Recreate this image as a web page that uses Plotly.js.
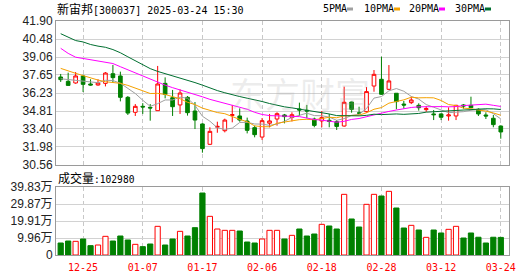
<!DOCTYPE html>
<html><head><meta charset="utf-8">
<script src="https://cdn.plot.ly/plotly-3.0.1.min.js"></script>
<style>html,body{margin:0;padding:0;background:#fff}#chart{width:530px;height:276px}</style>
</head><body><div id="chart"></div>
<script>
// ---- data ----
const dates = ['12-20','12-23','12-24','12-25','12-26','12-27','12-30','12-31','01-02','01-03',
  '01-06','01-07','01-08','01-09','01-10','01-13','01-14','01-15','01-16','01-17',
  '01-20','01-21','01-22','01-23','01-24','01-27','02-05','02-06','02-07','02-10',
  '02-11','02-12','02-13','02-14','02-17','02-18','02-19','02-20','02-21','02-24',
  '02-25','02-26','02-27','02-28','03-03','03-04','03-05','03-06','03-07','03-10',
  '03-11','03-12','03-13','03-14','03-17','03-18','03-19','03-20','03-21','03-24'];
const open = [37.49,37.15,37.02,37.57,36.94,36.86,36.99,37.75,37.57,35.89,
  34.71,35.18,35.10,34.84,36.99,35.86,35.29,35.89,34.81,33.79,
  32.19,33.54,33.26,34.47,34.42,34.02,33.50,32.76,33.85,34.18,
  34.50,34.30,34.97,34.87,34.18,34.03,34.08,33.97,33.63,35.52,
  34.65,34.76,36.78,37.31,36.52,36.21,35.36,35.47,35.26,34.92,
  34.58,34.58,34.42,34.42,35.29,35.26,34.95,34.50,34.24,33.63];
const high = [37.73,37.83,37.88,37.67,37.31,37.31,37.88,38.44,37.91,35.99,
  35.36,35.43,35.36,38.36,37.46,36.47,36.52,35.99,35.52,33.85,
  33.53,33.97,34.21,35.29,35.02,34.29,33.66,34.26,34.58,34.71,
  34.58,34.71,35.47,35.29,34.29,34.81,34.58,34.10,36.73,35.55,
  35.15,36.70,38.04,39.09,38.43,36.21,35.60,35.94,35.42,35.20,
  34.89,34.63,35.10,35.30,35.36,35.94,35.02,34.71,34.50,33.68];
const low = [37.10,36.80,36.96,36.31,36.81,36.81,36.75,37.04,35.57,34.50,
  34.42,34.58,34.05,34.84,35.81,34.42,34.58,34.45,33.39,31.53,
  32.14,33.10,33.13,33.92,33.97,33.05,32.74,32.53,33.53,33.66,
  33.84,33.99,34.42,34.24,33.53,33.53,33.53,33.32,33.58,34.68,
  34.55,34.68,36.33,36.10,36.47,34.95,35.00,35.36,34.84,34.75,
  34.10,34.10,34.05,34.10,35.00,35.05,34.42,34.18,33.53,32.63];
const close = [37.28,36.83,37.57,36.91,36.86,37.02,37.80,37.44,35.89,34.65,
  35.18,35.13,35.05,36.94,36.12,35.15,36.23,34.68,34.10,31.85,
  33.21,33.60,34.10,34.52,34.10,33.29,32.95,34.05,34.03,34.60,
  34.37,34.52,34.89,34.81,33.68,34.29,34.00,33.60,35.50,34.94,
  34.65,36.34,37.70,36.13,37.18,35.55,35.28,35.68,35.07,35.00,
  34.52,34.32,34.50,35.26,35.21,35.07,34.58,34.42,33.74,33.16];
const ma5 = [37.35,37.28,37.22,37.15,37.09,37.04,37.23,37.21,37.00,36.56,
  36.19,35.66,35.18,35.39,35.68,35.68,35.90,35.82,35.26,34.40,
  34.01,33.49,33.37,33.46,33.91,33.92,33.79,33.78,33.68,33.78,
  34.00,34.31,34.48,34.64,34.45,34.44,34.33,34.08,34.21,34.47,
  34.54,35.01,35.83,35.95,36.40,36.58,36.37,35.96,35.75,35.32,
  35.11,34.92,34.68,34.72,34.76,34.87,34.92,34.91,34.60,34.19];
const ma10 = [38.17,37.95,37.78,37.60,37.40,37.25,37.12,37.05,36.99,36.83,
  36.62,36.45,36.19,36.20,36.12,35.94,35.78,35.50,35.32,35.04,
  34.85,34.69,34.60,34.36,34.15,33.97,33.64,33.58,33.57,33.85,
  33.96,34.05,34.13,34.16,34.12,34.22,34.32,34.28,34.43,34.46,
  34.49,34.67,34.95,35.08,35.43,35.56,35.69,35.90,35.85,35.86,
  35.85,35.64,35.32,35.24,35.04,34.99,34.92,34.80,34.66,34.48];
const ma20 = [39.75,39.35,39.05,38.95,38.87,38.80,38.68,38.55,38.30,38.05,
  37.80,37.55,37.30,37.05,36.85,36.65,36.48,36.32,36.13,35.93,
  35.73,35.57,35.40,35.28,35.14,34.95,34.71,34.54,34.45,34.44,
  34.40,34.37,34.37,34.26,34.14,34.09,33.98,33.93,34.00,34.15,
  34.22,34.36,34.54,34.62,34.78,34.89,35.01,35.09,35.14,35.16,
  35.17,35.16,35.14,35.16,35.24,35.28,35.30,35.35,35.26,35.17];
const ma30 = [40.90,40.62,40.36,40.25,40.05,39.92,39.83,39.65,39.40,39.08,
  38.75,38.42,38.15,37.93,37.76,37.62,37.45,37.25,37.05,36.85,
  36.62,36.42,36.25,36.08,35.95,35.82,35.70,35.56,35.40,35.24,
  35.14,35.06,34.97,34.90,34.80,34.71,34.58,34.45,34.44,34.45,
  34.43,34.47,34.56,34.53,34.57,34.58,34.55,34.58,34.62,34.72,
  34.76,34.79,34.80,34.83,34.86,34.92,34.98,34.99,34.98,34.93];
// volume in 万手
const volume = [7.03,8.20,8.00,9.37,5.47,5.86,10.93,8.20,11.13,8.79,
  6.25,4.88,6.44,16.79,5.86,9.37,13.86,11.13,16.00,36.30,
  22.65,15.23,14.45,14.45,14.06,7.61,7.03,9.37,14.45,14.45,
  9.37,11.52,15.23,11.13,12.30,17.96,16.99,15.23,35.53,21.09,
  16.40,29.68,35.53,34.56,37.29,27.53,15.81,17.38,14.64,10.35,
  14.64,12.89,15.03,16.79,9.96,12.89,10.40,7.03,10.40,10.298];
const priceTicks = [41.90,40.48,39.06,37.65,36.23,34.81,33.40,31.98,30.56];
const volTicks = [0,9.96,19.91,29.87,39.83];
const volTickText = ['0','9.96万','19.91万','29.87万','39.83万'];
const dateTicks = ['12-25','01-07','01-17','02-06','02-18','02-28','03-12','03-24'];
const maNames = ['5PMA','10PMA','20PMA','30PMA'];
const maColors = ['#a0a0a0','#f5a100','#ff00ff','#006f30'];
const title = '新宙邦[300037] 2025-03-24 15:30';
const volLabel = '成交量:102980';

// ---- helpers for layout placement ----
const W=530,H=276,ML=56,MR=21,MT=21,MB=21;
const pw=W-ML-MR, ph=H-MT-MB;
const px=x=>(x-ML)/pw, py=y=>(H-MB-y)/ph;
const RED='#ff0000', GREEN='#008000';

const up = close.map((c,i)=> c>open[i] || (c===open[i] && i>0 && c>=close[i-1]));
const volFill = up.map(u=>u?'#ffffff':GREEN);
const volLine = up.map(u=>u?RED:GREEN);

const traces = [
  {type:'candlestick', x:dates, open:open, high:high, low:low, close:close,
   xaxis:'x', yaxis:'y', whiskerwidth:0, hoverinfo:'skip',
   increasing:{line:{color:RED,width:1}, fillcolor:'#ffffff'},
   decreasing:{line:{color:GREEN,width:1}, fillcolor:GREEN}},
];
[ma5,ma10,ma20,ma30].forEach((m,k)=>traces.push({type:'scatter',mode:'lines',x:dates,y:m,
  xaxis:'x',yaxis:'y',line:{color:maColors[k],width:1},hoverinfo:'skip'}));
traces.push({type:'bar',x:dates,y:volume,xaxis:'x2',yaxis:'y2',hoverinfo:'skip',
  marker:{color:volFill,line:{color:volLine,width:1}}});

const axBase = {type:'category', range:[-0.63,60.1], tickvals:dateTicks,
  showgrid:true, gridcolor:'#c8c8c8', griddash:'4px,3px', gridwidth:1,
  showline:true, mirror:true, linecolor:'#9a9a9a', linewidth:1, zeroline:false, fixedrange:true};
const yBase = {showgrid:true, gridcolor:'#d2d2d2', gridwidth:1, showline:true, mirror:true,
  linecolor:'#9a9a9a', linewidth:1, zeroline:false, ticks:'', fixedrange:true,
  tickfont:{family:'Liberation Sans, Noto Sans CJK SC', size:12, color:'#222'}};

const mono = 'DejaVu Sans Mono';
const cjk = t=>'<span style="font-family:Noto Sans CJK SC;font-size:12px">'+t+'</span>';
const annotations = [
  {xref:'paper',yref:'paper',x:px(55),y:py(8.5),xanchor:'left',yanchor:'middle',showarrow:false,
   text:cjk(title.slice(0,3))+title.slice(3), font:{family:mono,size:10,color:'#000'}},
  {xref:'paper',yref:'paper',x:px(56),y:py(177.5),xanchor:'left',yanchor:'middle',showarrow:false,
   text:cjk(volLabel.slice(0,3))+volLabel.slice(3), font:{family:mono,size:9.6,color:'#000'}},
  {xref:'paper',yref:'paper',x:px(300),y:py(92),xanchor:'center',yanchor:'middle',showarrow:false,
   text:'东方财富', font:{family:'Noto Sans CJK SC',size:35,color:'rgba(170,170,170,0.22)'}},
];
const legX = [321,362,407,453];
const shapes = [];
maNames.forEach((n,k)=>{
  annotations.push({xref:'paper',yref:'paper',x:px(legX[k]),y:py(8.5),xanchor:'left',yanchor:'middle',
    showarrow:false,text:n,font:{family:mono,size:10,color:'#000'}});
  const x0 = legX[k] + n.length*6 + 2;
  shapes.push({type:'rect',xref:'paper',yref:'paper',x0:px(x0),x1:px(x0+6),y0:py(10.5),y1:py(7.5),
    fillcolor:maColors[k],line:{width:0}});
});

const layout = {
  width:W, height:H, margin:{l:ML,r:MR,t:MT,b:MB,pad:0},
  paper_bgcolor:'#fff', plot_bgcolor:'#fff', showlegend:false,
  bargap:0.3, boxgap:0.3,
  xaxis:Object.assign({}, axBase, {anchor:'y', showticklabels:false, ticks:'', rangeslider:{visible:false}}),
  yaxis:Object.assign({}, yBase, {domain:[py(165),1], range:[30.56,41.90], tickvals:priceTicks,
    ticktext:priceTicks.map(v=>v.toFixed(2))}),
  xaxis2:Object.assign({}, axBase, {anchor:'y2', ticks:'outside', ticklen:3, tickcolor:'rgba(0,0,0,0)',
    tickfont:{family:mono,size:10,color:RED}}),
  yaxis2:Object.assign({}, yBase, {domain:[0,py(187)], range:[0,39.83], tickvals:volTicks, ticktext:volTickText}),
  annotations:annotations, shapes:shapes
};
Plotly.newPlot('chart', traces, layout, {staticPlot:true, displayModeBar:false});
</script></body></html>
